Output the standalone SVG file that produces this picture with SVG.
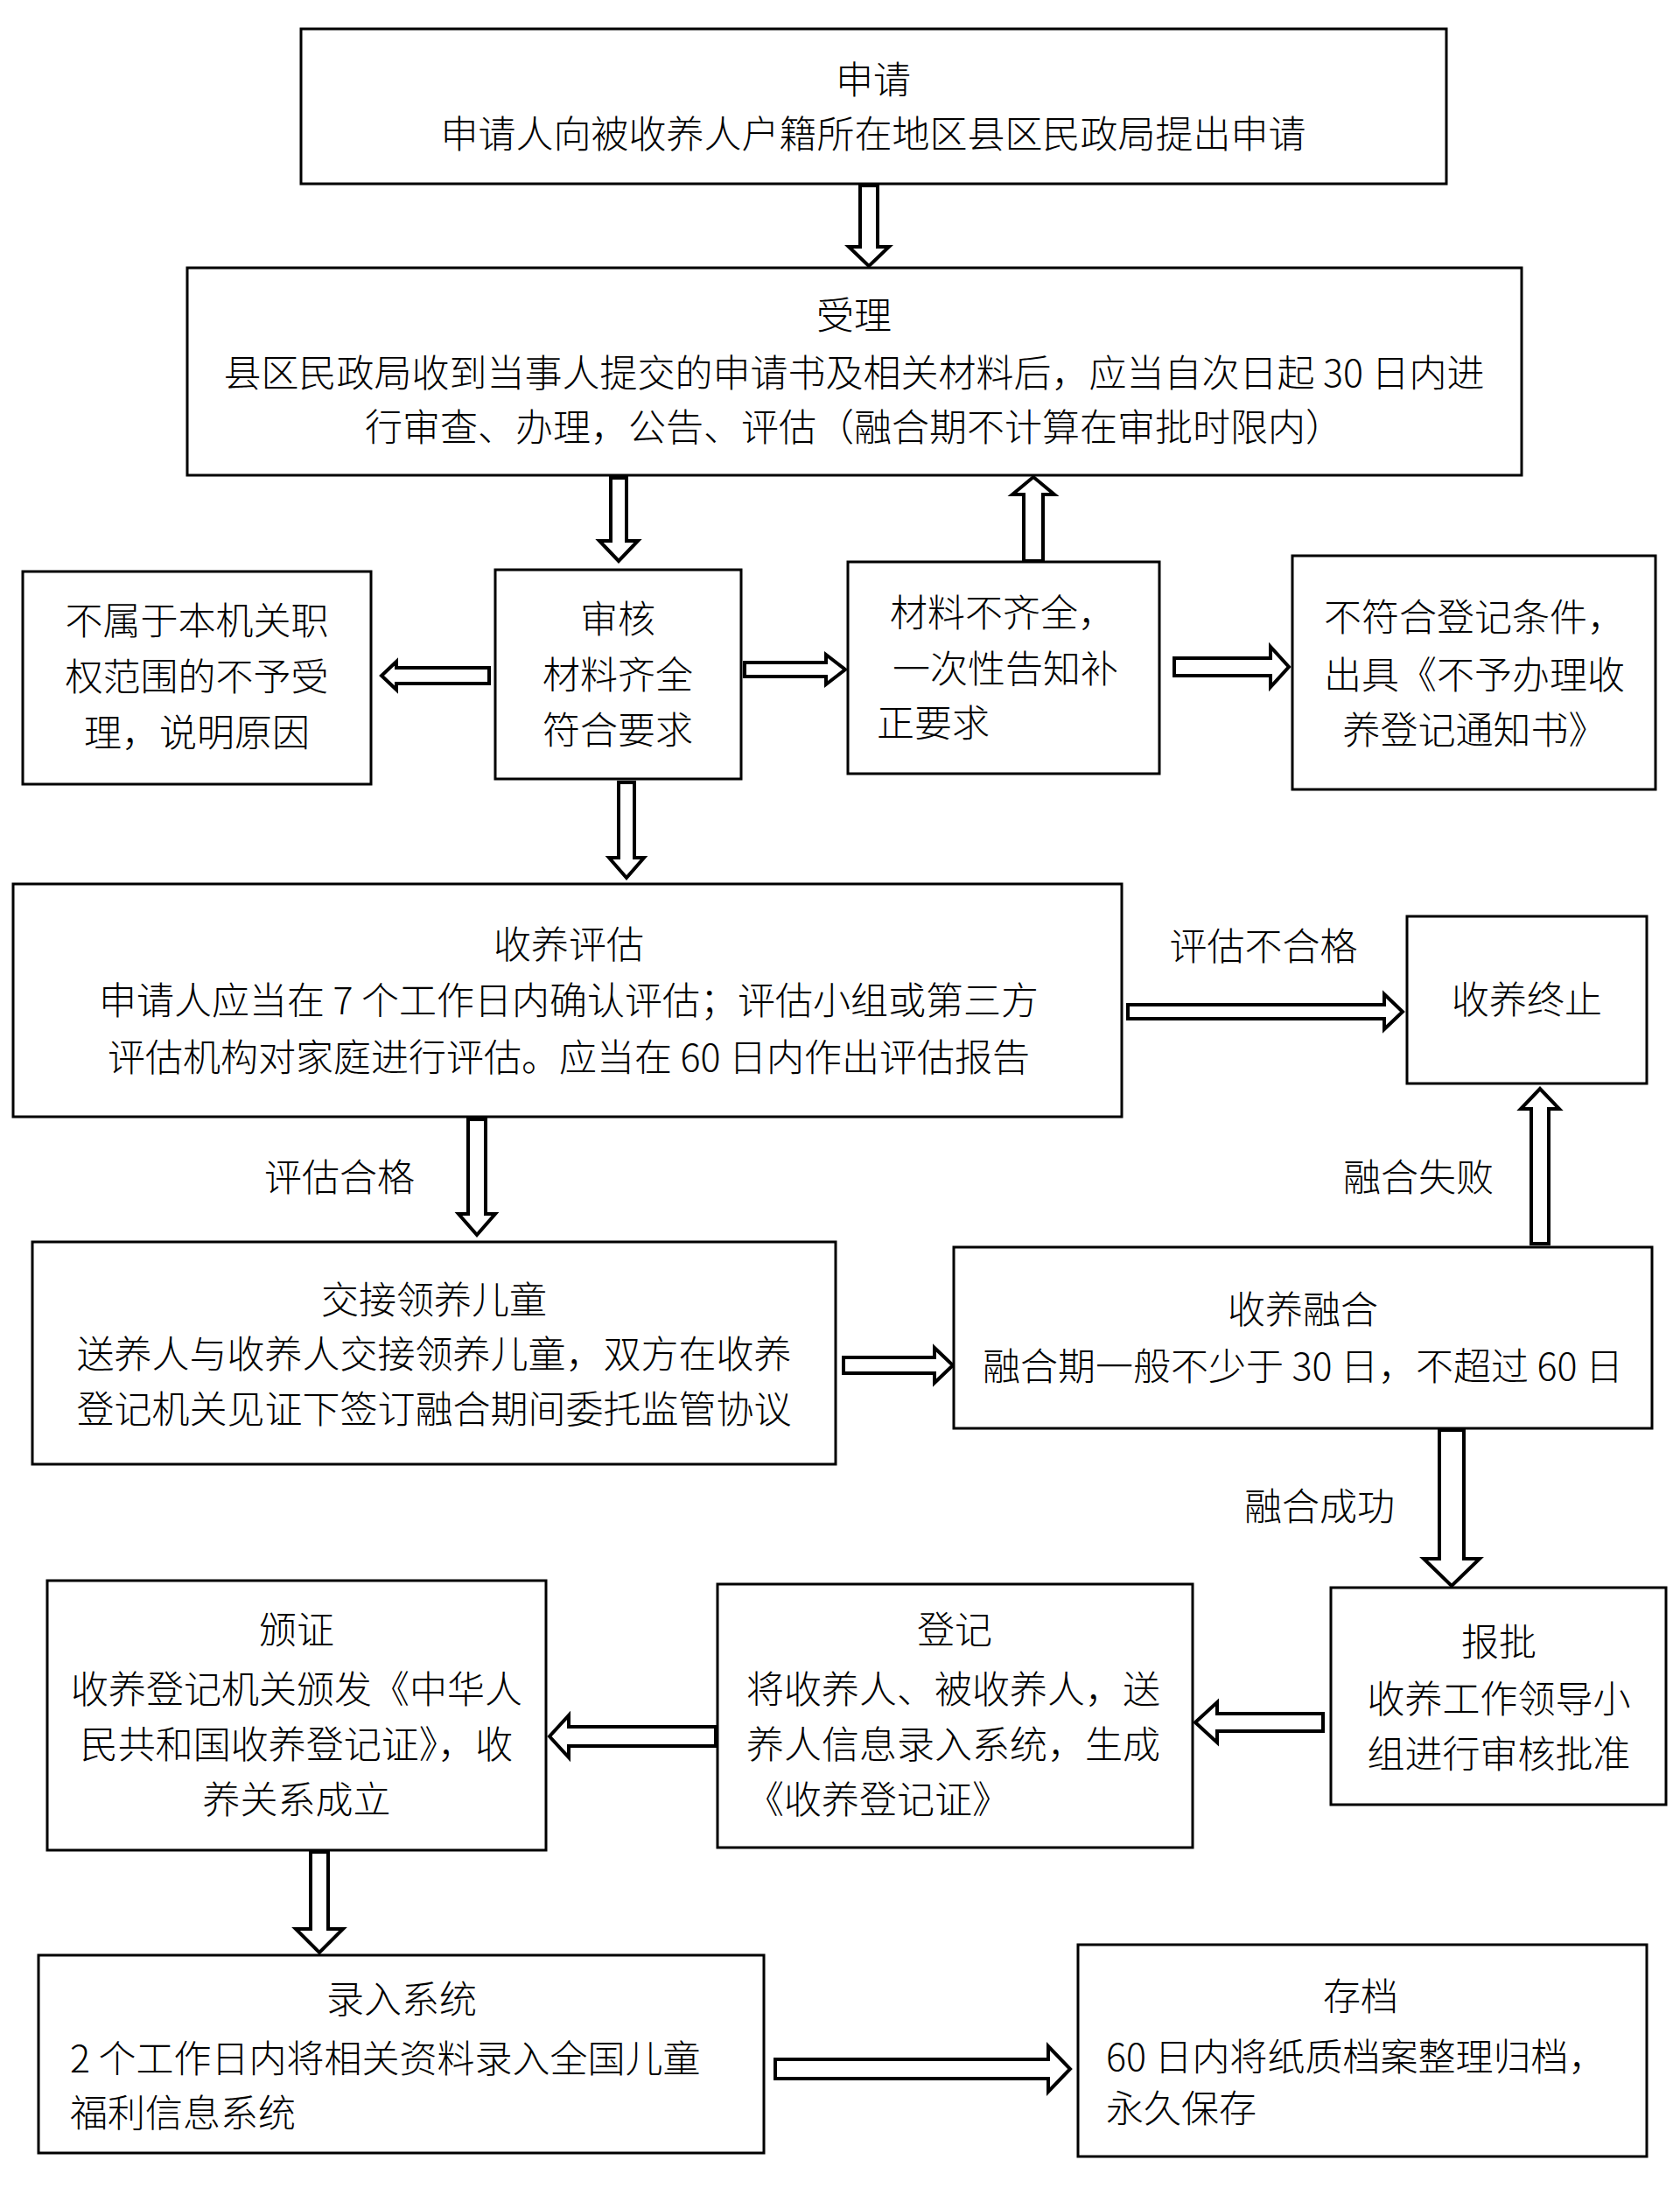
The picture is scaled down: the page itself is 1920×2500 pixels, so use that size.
<svg xmlns="http://www.w3.org/2000/svg" width="1920" height="2500" viewBox="0 0 1920 2500">
<style>
.box{fill:#fff;stroke:#000;stroke-width:3}
.arr{fill:#fff;stroke:#000;stroke-width:4;stroke-linejoin:miter}
text{font-family:"Noto Sans CJK SC","Noto Sans",sans-serif;font-size:43px;font-weight:300;fill:#000}
.c{text-anchor:middle}
</style>
<rect width="1920" height="2500" fill="#fff"/>
<g id="connectors">
<path class="arr" d="M983,212 L1003,212 L1003,282 L1016,282 L993,304 L970,282 L983,282 Z"/>
<path class="arr" d="M698,546 L716,546 L716,618 L729,618 L707,641 L685,618 L698,618 Z"/>
<path class="arr" d="M1170,641 L1192,641 L1192,565 L1205,565 L1181,545 L1157,565 L1170,565 Z"/>
<path class="arr" d="M559,763 L559,781 L453,781 L453,788 L436,772 L453,756 L453,763 Z"/>
<path class="arr" d="M851,757 L944,757 L944,748 L966,765 L944,782 L944,773 L851,773 Z"/>
<path class="arr" d="M1342,752 L1452,752 L1452,739 L1473,762 L1452,785 L1452,772 L1342,772 Z"/>
<path class="arr" d="M707,894 L725,894 L725,980 L736,980 L716,1003 L696,980 L707,980 Z"/>
<path class="arr" d="M1289,1148 L1582,1148 L1582,1136 L1603,1156 L1582,1176 L1582,1164 L1289,1164 Z"/>
<path class="arr" d="M535,1279 L555,1279 L555,1387 L566,1387 L545,1411 L524,1387 L535,1387 Z"/>
<path class="arr" d="M1750,1421 L1770,1421 L1770,1267 L1782,1267 L1760,1244 L1738,1267 L1750,1267 Z"/>
<path class="arr" d="M964,1551 L1068,1551 L1068,1540 L1089,1560 L1068,1580 L1068,1569 L964,1569 Z"/>
<path class="arr" d="M1645,1634 L1673,1634 L1673,1781 L1691,1781 L1659,1812 L1627,1781 L1645,1781 Z"/>
<path class="arr" d="M1512,1958 L1512,1978 L1391,1978 L1391,1991 L1366,1968 L1391,1945 L1391,1958 Z"/>
<path class="arr" d="M818,1973 L818,1995 L650,1995 L650,2008 L628,1984 L650,1960 L650,1973 Z"/>
<path class="arr" d="M355,2116 L375,2116 L375,2204 L392,2204 L365,2231 L338,2204 L355,2204 Z"/>
<path class="arr" d="M886,2353 L1198,2353 L1198,2338 L1223,2364 L1198,2390 L1198,2375 L886,2375 Z"/>
<text class="c" x="1444" y="1097">评估不合格</text>
<text class="c" x="388" y="1361">评估合格</text>
<text class="c" x="1621" y="1361">融合失败</text>
<text class="c" x="1508" y="1737">融合成功</text>
</g>
<g id="n-apply">
<rect class="box" x="344" y="33" width="1309" height="177"/>
<text class="c" x="998" y="107">申请</text>
<text class="c" x="998" y="169">申请人向被收养人户籍所在地区县区民政局提出申请</text>
</g>
<g id="n-accept">
<rect class="box" x="214" y="306" width="1525" height="237"/>
<text class="c" x="976" y="376">受理</text>
<text class="c" x="976" y="442">县区民政局收到当事人提交的申请书及相关材料后，应当自次日起 30 日内进</text>
<text class="c" x="976" y="504">行审查、办理，公告、评估（融合期不计算在审批时限内）</text>
</g>
<g id="n-reject-scope">
<rect class="box" x="26" y="653" width="398" height="243"/>
<text class="c" x="225" y="725">不属于本机关职</text>
<text class="c" x="225" y="789">权范围的不予受</text>
<text class="c" x="225" y="853">理，说明原因</text>
</g>
<g id="n-review">
<rect class="box" x="566" y="651" width="281" height="239"/>
<text class="c" x="706" y="723">审核</text>
<text class="c" x="706" y="787">材料齐全</text>
<text class="c" x="706" y="850">符合要求</text>
</g>
<g id="n-incomplete">
<rect class="box" x="969" y="642" width="356" height="242"/>
<text x="1017" y="716">材料不齐全，</text>
<text x="1020" y="780">一次性告知补</text>
<text x="1002" y="842">正要求</text>
</g>
<g id="n-unqualified">
<rect class="box" x="1477" y="635" width="415" height="267"/>
<text class="c" x="1685" y="721">不符合登记条件，</text>
<text class="c" x="1685" y="787">出具《不予办理收</text>
<text class="c" x="1685" y="850">养登记通知书》</text>
</g>
<g id="n-evaluate">
<rect class="box" x="15" y="1010" width="1267" height="266"/>
<text class="c" x="650" y="1095">收养评估</text>
<text class="c" x="650" y="1159">申请人应当在 7 个工作日内确认评估；评估小组或第三方</text>
<text class="c" x="650" y="1224">评估机构对家庭进行评估。应当在 60 日内作出评估报告</text>
</g>
<g id="n-terminate">
<rect class="box" x="1608" y="1047" width="274" height="191"/>
<text class="c" x="1745" y="1158">收养终止</text>
</g>
<g id="n-handover">
<rect class="box" x="37" y="1419" width="918" height="254"/>
<text class="c" x="496" y="1501">交接领养儿童</text>
<text class="c" x="496" y="1563">送养人与收养人交接领养儿童，双方在收养</text>
<text class="c" x="496" y="1626">登记机关见证下签订融合期间委托监管协议</text>
</g>
<g id="n-fusion">
<rect class="box" x="1090" y="1425" width="798" height="207"/>
<text class="c" x="1489" y="1512">收养融合</text>
<text class="c" x="1489" y="1577">融合期一般不少于 30 日，不超过 60 日</text>
</g>
<g id="n-issue">
<rect class="box" x="54" y="1806" width="570" height="308"/>
<text class="c" x="339" y="1878">颁证</text>
<text class="c" x="339" y="1946">收养登记机关颁发《中华人</text>
<text class="c" x="339" y="2009">民共和国收养登记证》，收</text>
<text class="c" x="339" y="2072">养关系成立</text>
</g>
<g id="n-register">
<rect class="box" x="820" y="1810" width="543" height="301"/>
<text class="c" x="1091" y="1878">登记</text>
<text x="853" y="1946">将收养人、被收养人，送</text>
<text x="853" y="2009">养人信息录入系统，生成</text>
<text x="853" y="2072">《收养登记证》</text>
</g>
<g id="n-approve">
<rect class="box" x="1521" y="1814" width="383" height="248"/>
<text class="c" x="1713" y="1892">报批</text>
<text class="c" x="1713" y="1957">收养工作领导小</text>
<text class="c" x="1713" y="2020">组进行审核批准</text>
</g>
<g id="n-input">
<rect class="box" x="44" y="2234" width="829" height="226"/>
<text class="c" x="459" y="2300">录入系统</text>
<text x="80" y="2368">2 个工作日内将相关资料录入全国儿童</text>
<text x="80" y="2430">福利信息系统</text>
</g>
<g id="n-archive">
<rect class="box" x="1232" y="2222" width="650" height="242"/>
<text class="c" x="1555" y="2297">存档</text>
<text x="1264" y="2366">60 日内将纸质档案整理归档，</text>
<text x="1264" y="2425">永久保存</text>
</g>
</svg>
